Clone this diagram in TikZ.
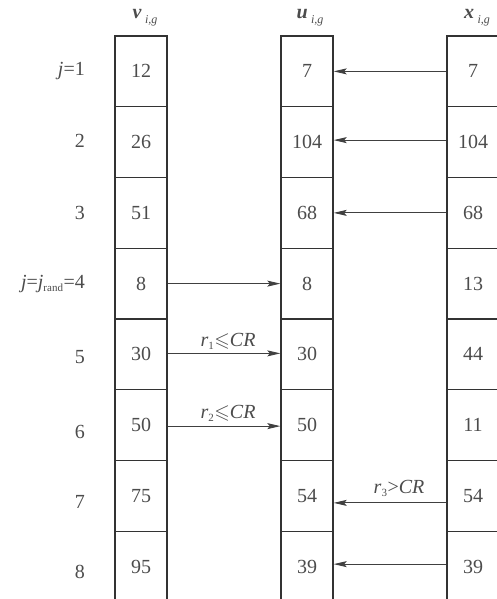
\documentclass[tikz,border=0pt]{standalone}
\usepackage{amssymb}
\usepackage{fontspec}
\setmainfont{Liberation Serif}
\usetikzlibrary{arrows.meta}
\definecolor{txt}{gray}{0.30}
\definecolor{ln}{gray}{0.20}
\definecolor{arr}{gray}{0.25}
\tikzset{
  cell/.style={draw=ln,line width=1.4pt,minimum width=52pt,minimum height=70.75pt,inner sep=0pt,
    font=\fontsize{20}{22}\selectfont,text=txt},
  conn/.style={draw=arr,line width=0.9pt,-{Stealth[length=13pt,width=6pt,inset=2.5pt]}},
  rowlab/.style={anchor=east,font=\fontsize{20}{22}\selectfont,text=txt,inner sep=0pt},
  head/.style={font=\fontsize{20}{22}\selectfont,text=txt,inner sep=0pt},
  cond/.style={font=\fontsize{20}{22}\selectfont,text=txt,inner sep=0pt}
}
\newcommand{\hsub}[1]{\raisebox{-5pt}{\fontsize{12}{12}\selectfont\itshape #1}}
\begin{document}
\begin{tikzpicture}[x=1pt,y=-1pt]
\useasboundingbox (0,0) rectangle (497,599);
\clip (0,0) rectangle (497,599);
% headers
\node[head] (hv) at (145,18) {\textbf{\textit{v}}\,\hsub{i,g}};
\node[head] (hu) at (310,18) {\textbf{\textit{u}}\,\hsub{i,g}};
\node[head] (hx) at (477,18) {\textbf{\textit{x}}\,\hsub{i,g}};
% cells
\foreach \i/\a/\b/\c in {1/12/7/7,2/26/104/104,3/51/68/68,4/8/8/13,5/30/30/44,6/50/50/11,7/75/54/54,8/95/39/39}{
  \pgfmathsetmacro{\yy}{36+70.75*(\i-0.5)}
  \node[cell] (v\i) at (141,\yy) {\a};
  \node[cell] (u\i) at (307,\yy) {\b};
  \node[cell] (x\i) at (473,\yy) {\c};
}
% row labels
\node[rowlab] (l1) at (85,71) {\textit{j}=1};
\node[rowlab] (l2) at (85,141) {2};
\node[rowlab] (l3) at (85,213) {3};
\node[rowlab] (l4) at (85,284) {\textit{j}=\textit{j}\textsubscript{\fontsize{11}{12}\selectfont rand}=4};
\node[rowlab] (l5) at (85,357) {5};
\node[rowlab] (l6) at (85,432) {6};
\node[rowlab] (l7) at (85,502) {7};
\node[rowlab] (l8) at (85,572) {8};
% arrows x -> u
\draw[conn] (x1.west) -- (u1.east);
\draw[conn] ([yshift=2pt]x2.west) -- ([yshift=2pt]u2.east);
\draw[conn] (x3.west) -- (u3.east);
\draw[conn] ([yshift=-7pt]x7.west) -- ([yshift=-7pt]u7.east);
\draw[conn] ([yshift=2.5pt]x8.west) -- ([yshift=2.5pt]u8.east);
% arrows v -> u
\draw[conn] (v4.east) -- (u4.west);
\draw[conn] ([yshift=1pt]v5.east) -- ([yshift=1pt]u5.west);
\draw[conn] ([yshift=-1pt]v6.east) -- ([yshift=-1pt]u6.west);
% conditions
\node[cond] (c1) at (228,341) {\textit{r}\textsubscript{\fontsize{11}{12}\selectfont 1}$\leqslant$\textit{CR}};
\node[cond] (c2) at (228,413) {\textit{r}\textsubscript{\fontsize{11}{12}\selectfont 2}$\leqslant$\textit{CR}};
\node[cond] (c3) at (399,488) {\textit{r}\textsubscript{\fontsize{11}{12}\selectfont 3}>\textit{CR}};
\end{tikzpicture}
\end{document}
